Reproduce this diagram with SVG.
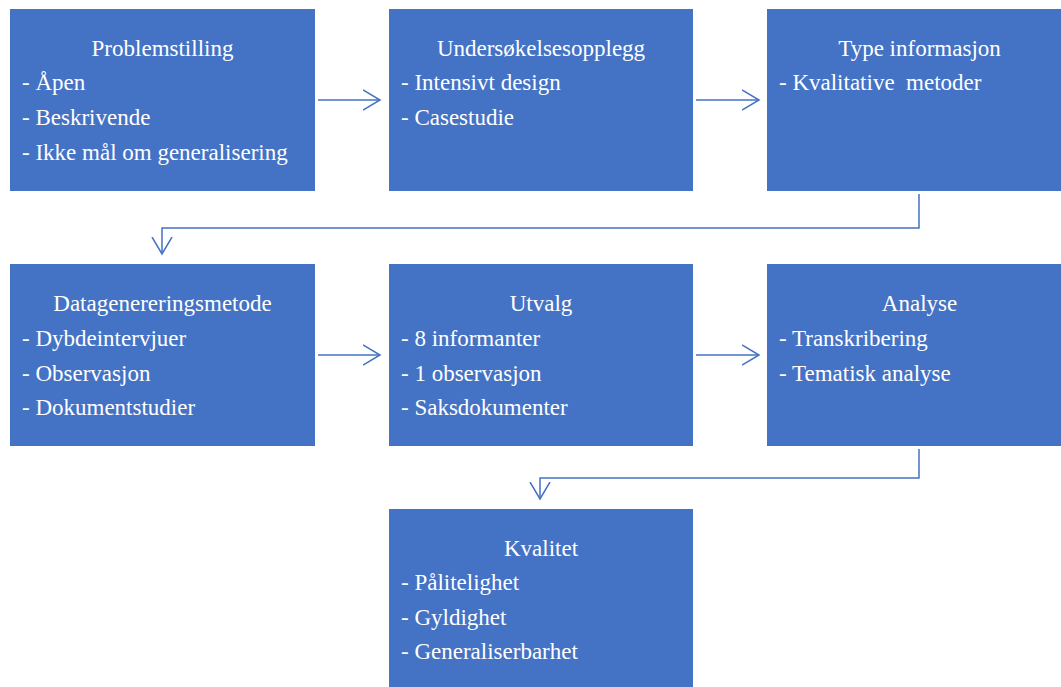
<svg xmlns="http://www.w3.org/2000/svg" width="1061" height="687" viewBox="0 0 1061 687">
<defs>
<style>
.box{fill:#4472C4;}
.t{font-family:"Liberation Serif","Times New Roman",serif;font-size:23px;fill:#ffffff;}
.c{text-anchor:middle;}
.ln{fill:none;stroke:#4472C4;stroke-width:1.5;}
</style>
<marker id="ah" markerWidth="20" markerHeight="24" refX="17" refY="11" orient="auto" markerUnits="userSpaceOnUse">
<path d="M0,1 L17,11 L0,21" fill="none" stroke="#4472C4" stroke-width="1.5"/>
</marker>
</defs>
<rect width="1061" height="687" fill="#ffffff"/>
<g id="n1">
<rect class="box" x="10" y="9" width="305" height="182"/>
<text class="t c" x="162.5" y="56">Problemstilling</text>
<text class="t" x="22" y="90">- Åpen</text>
<text class="t" x="22" y="125">- Beskrivende</text>
<text class="t" x="22" y="160">- Ikke mål om generalisering</text>
</g>
<g id="n2">
<rect class="box" x="389" y="9" width="304" height="182"/>
<text class="t c" x="541" y="56">Undersøkelsesopplegg</text>
<text class="t" x="401" y="90">- Intensivt  design</text>
<text class="t" x="401" y="125">- Casestudie</text>
</g>
<g id="n3">
<rect class="box" x="767" y="9" width="305" height="182"/>
<text class="t c" x="919.5" y="56">Type informasjon</text>
<text class="t" x="779" y="90" xml:space="preserve">- Kvalitative  metoder</text>
</g>
<g id="n4">
<rect class="box" x="10" y="264" width="305" height="182"/>
<text class="t c" x="162.5" y="311">Datagenereringsmetode</text>
<text class="t" x="22" y="346">- Dybdeintervjuer</text>
<text class="t" x="22" y="381">- Observasjon</text>
<text class="t" x="22" y="415">- Dokumentstudier</text>
</g>
<g id="n5">
<rect class="box" x="389" y="264" width="304" height="182"/>
<text class="t c" x="541" y="311">Utvalg</text>
<text class="t" x="401" y="346">- 8 informanter</text>
<text class="t" x="401" y="381">- 1 observasjon</text>
<text class="t" x="401" y="415">- Saksdokumenter</text>
</g>
<g id="n6">
<rect class="box" x="767" y="264" width="305" height="182"/>
<text class="t c" x="919.5" y="311">Analyse</text>
<text class="t" x="779" y="346">- Transkribering</text>
<text class="t" x="779" y="381">- Tematisk analyse</text>
</g>
<g id="n7">
<rect class="box" x="389" y="509" width="304" height="178"/>
<text class="t c" x="541" y="556">Kvalitet</text>
<text class="t" x="401" y="590">- Pålitelighet</text>
<text class="t" x="401" y="625">- Gyldighet</text>
<text class="t" x="401" y="659">- Generaliserbarhet</text>
</g>
<g id="connectors">
<path class="ln" d="M318,100 L380,100" marker-end="url(#ah)"/>
<path class="ln" d="M696,100 L759,100" marker-end="url(#ah)"/>
<path class="ln" d="M919,194 L919,228 L162,228 L162,254" marker-end="url(#ah)"/>
<path class="ln" d="M318,355 L380,355" marker-end="url(#ah)"/>
<path class="ln" d="M696,355 L759,355" marker-end="url(#ah)"/>
<path class="ln" d="M919,449 L919,478 L540,478 L540,499" marker-end="url(#ah)"/>
</g>
</svg>
